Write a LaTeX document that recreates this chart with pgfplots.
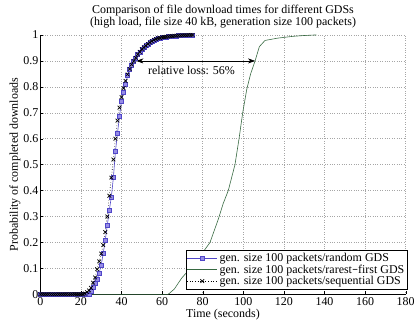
\documentclass[border=0pt]{standalone}
\usepackage{pgfplots}
\pgfplotsset{compat=1.18}
\usepackage{pgfplotstable}
\usepackage{fontspec}
\setmainfont{Liberation Serif}
\usetikzlibrary{arrows.meta}
\definecolor{rndline}{RGB}{80,70,200}
\definecolor{rndfill}{RGB}{150,140,230}
\definecolor{rfgreen}{RGB}{55,105,65}

\pgfplotstableread{
x y
0 0
1 0
2 0
3 0
4 0
5 0
6 0
7 0
8 0
9 0
10 0
11 0
12 0
13 0
14 0
15 0
16 0
17 0
18 0
19 0
20 0
21 0
22 0
23 0
24 0.002
25 0.012
26 0.028
27 0.043
28 0.058
29 0.082
30 0.113
31 0.157
32 0.21
33 0.265
34 0.325
35 0.375
36 0.45
37 0.55
38 0.62
39 0.685
40 0.745
41 0.78
42 0.81
43 0.843
44 0.867
45 0.885
46 0.898
47 0.911
48 0.925
49 0.935
50 0.945
51 0.952
52 0.959
53 0.965
54 0.971
55 0.976
56 0.981
57 0.984
58 0.987
59 0.989
60 0.991
61 0.992
62 0.993
63 0.994
64 0.995
65 0.996
66 0.997
67 0.997
68 0.998
69 0.998
70 0.999
71 0.999
72 0.999
73 1
74 1
75 1
}\randomtab

\pgfplotstableread{
x y
0 0
1 0
2 0
3 0
4 0
5 0
6 0
7 0
8 0
9 0
10 0
11 0
12 0
13 0
14 0
15 0
16 0
17 0
18 0
19 0
20 0
21 0
22 0.003
23 0.008
24 0.015
25 0.025
26 0.045
27 0.065
28 0.097
29 0.127
30 0.157
31 0.19
32 0.24
33 0.30
34 0.38
35 0.45
36 0.52
37 0.60
38 0.67
39 0.72
40 0.76
41 0.795
42 0.823
43 0.848
44 0.869
45 0.886
46 0.899
47 0.912
48 0.925
49 0.935
50 0.945
51 0.952
52 0.959
53 0.965
54 0.971
55 0.976
56 0.981
57 0.984
58 0.987
59 0.989
60 0.991
61 0.992
62 0.993
63 0.994
64 0.995
65 0.996
66 0.997
67 0.997
68 0.998
69 0.998
70 0.999
71 0.999
72 0.999
73 1
74 1
75 1
}\seqtab

\pgfplotstableread{
x y
0 0
63 0
66 0.02
69.6 0.062
75 0.11
79 0.15
83.6 0.2
87.7 0.29
90.1 0.35
92.6 0.4
95.9 0.5
97.9 0.6
99.7 0.7
101.7 0.79
103.6 0.85
105.8 0.9
107.9 0.955
110.7 0.979
117 0.988
124.6 0.995
130 0.998
135 1
136 1
}\rarestab

\begin{document}
\begin{tikzpicture}
\begin{axis}[
  at={(40.3bp,31.7bp)}, anchor=south west,
  scale only axis, width=365.4bp, height=259.3bp,
  xmin=0, xmax=180, ymin=0, ymax=1,
  xtick={0,20,...,180}, ytick={0,0.1,...,1},
  yticklabels={0,0.1,0.2,0.3,0.4,0.5,0.6,0.7,0.8,0.9,1},
  axis x line*=bottom, axis y line*=left,
  axis line style={-, line width=0.6pt},
  tick align=inside, major tick length=3bp,
  tick style={black, line width=0.4pt},
  grid=major, grid style={dotted, gray!70, line width=0.5pt},
  /pgf/number format/assume math mode=true,
  tick label style={font=\fontsize{12}{13}\selectfont},
  xticklabel style={yshift=0.5bp},
  yticklabel style={xshift=1.5bp},
  xlabel={Time (seconds)},
  ylabel={Probability of completed downloads},
  label style={font=\fontsize{12}{13}\selectfont},
  xlabel style={yshift=3bp},
  ylabel style={yshift=-4bp},
  title style={font=\fontsize{12}{12.5}\selectfont, align=center, yshift=-3bp},
  title={Comparison of file download times for different GDSs\\(high load, file size 40 kB, generation size 100 packets)},
  legend style={at={(rel axis cs:1,0)}, anchor=south east, xshift=2bp, yshift=5bp,
    font=\fontsize{12}{13}\selectfont, draw=black, line width=0.7pt,
    inner sep=1bp, row sep=-2.5bp},
  legend cell align=left,
  legend image code/.code={\draw[mark repeat=2,mark phase=2,#1] plot coordinates {(0bp,0bp) (15bp,0bp) (30bp,0bp)};},
  legend image post style={line width=0.6pt},
]
\addplot[rndline, line width=0.6pt, mark=square*, mark size=2bp,
  mark options={fill=rndfill, draw=rndline, line width=0.5pt}] table {\randomtab};
\addlegendentry{gen. size 100 packets/random GDS}
\addplot[rfgreen, line width=0.6pt, mark=none] table {\rarestab};
\addlegendentry{gen. size 100 packets/rarest\texttt{-}first GDS}
\addplot[black, dotted, line width=0.6pt, mark=x, mark size=2.6bp,
  mark options={solid, line width=0.7pt}] table {\seqtab};
\addlegendentry{gen. size 100 packets/sequential GDS}
\draw[{Stealth[length=7bp,width=5bp,inset=2bp]}-{Stealth[length=7bp,width=5bp,inset=2bp]}, line width=0.7pt]
  (axis cs:47.3,0.9) -- (axis cs:105.8,0.9);
\node[font=\fontsize{12}{13}\selectfont] at (axis cs:74.5,0.865) {relative loss: 56\%};
\end{axis}
\pgfresetboundingbox
\path (0,0) rectangle (414bp,326bp);
\end{tikzpicture}
\end{document}
